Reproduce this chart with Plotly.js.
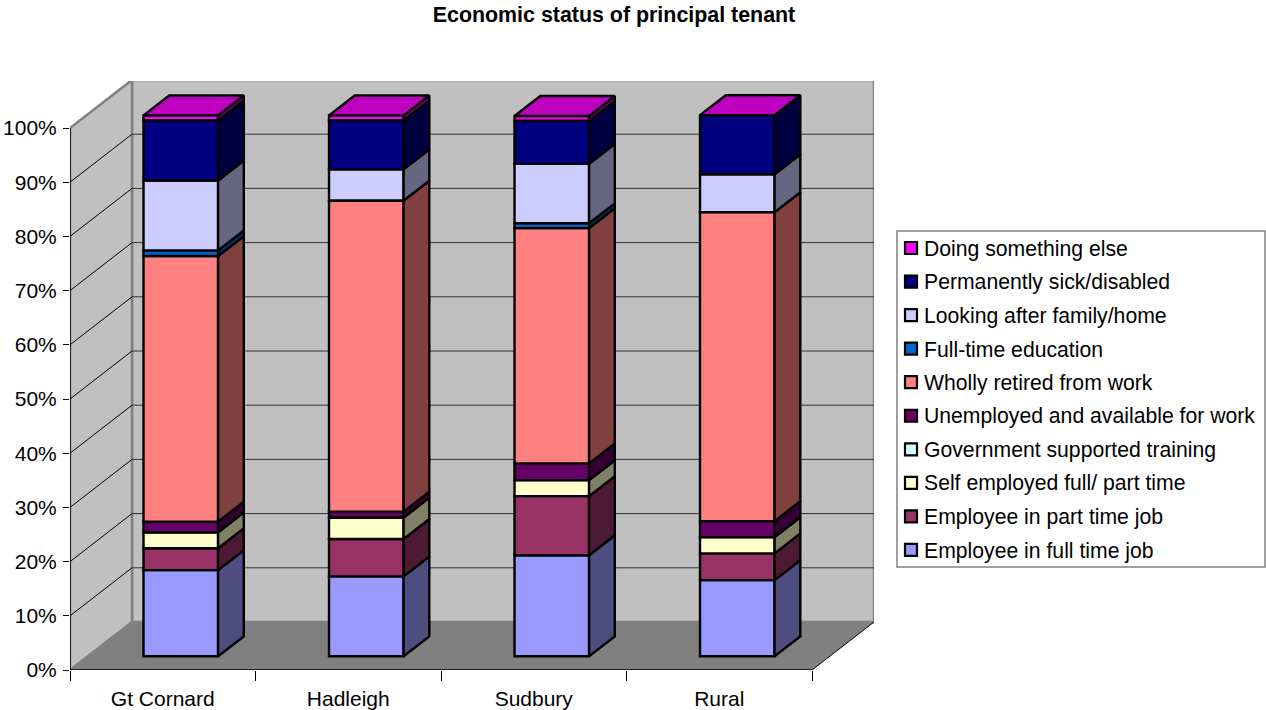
<!DOCTYPE html>
<html><head><meta charset="utf-8">
<script src="https://cdn.plot.ly/plotly-3.0.1.min.js"></script>
<style>html,body{margin:0;padding:0;background:#fff}</style></head>
<body><div id="chart" style="width:1266px;height:710px"></div>
<script>
const categories = ["Gt Cornard","Hadleigh","Sudbury","Rural"];
const seriesNames = ["Employee in full time job","Employee in part time job","Self employed full/ part time","Government supported training","Unemployed and available for work","Wholly retired from work","Full-time education","Looking after family/home","Permanently sick/disabled","Doing something else"];
const fullTimeJob   = [15.9, 14.75, 18.65, 14.05];
const partTimeJob   = [4.05, 6.9, 10.9, 4.95];
const selfEmployed  = [2.95, 3.95, 2.95, 3.0];
const govTraining   = [0, 0, 0, 0];
const unemployed    = [1.95, 1.1, 3.1, 2.95];
const whollyRetired = [49.0, 57.4, 43.4, 57.0];
const education     = [1.05, 0, 0.9, 0];
const familyHome    = [12.9, 5.75, 10.95, 7.0];
const sickDisabled  = [11.1, 9.05, 7.95, 10.9];
const somethingElse = [0.9, 0.9, 0.9, 0];
const seriesValues = [fullTimeJob,partTimeJob,selfEmployed,govTraining,unemployed,whollyRetired,education,familyHome,sickDisabled,somethingElse];
const frontColors = ["#9999FF","#993366","#FFFFCC","#CCFFFF","#660066","#FF8080","#0066CC","#CCCCFF","#000080","#FF00FF"];
const sideColors  = ["#4D4D80","#4D1A33","#808066","#668080","#330033","#804040","#003366","#666680","#000040","#800080"];
const topColor = "#C000C0";
const yTicks = [0,10,20,30,40,50,60,70,80,90,100];
const FONT = '"Liberation Sans", Arial, sans-serif';

// plot-box geometry
const L=70, R=874, T=81, B=670, W=1266, H=710;
const unitX=185.5, unitY=5.42;            // pixels per category / per percent
const depthX=62/unitX, depthY=48/unitY;   // full floor depth in axis units
const barStart=0.285, barEnd=0.70, barPad=0.301, barWidth=0.402;
const px=(x,y)=>[(x-L)/(R-L),(B-y)/(B-T)];
const P=(cat,val,d)=>[cat+d*depthX, val+d*depthY];

const traces=[];
// front faces (real bars)
const offX=barStart*depthX, offY=barStart*depthY;
const frontX=categories.map((c,i)=>i+barPad+offX+barWidth/2);
const cum=categories.map(()=>0);
const sideSets=[];
const EDGE=2.4;
seriesValues.forEach((vals,s)=>{
  const base=vals.map((v,i)=>cum[i]+offY);
  traces.push({type:"bar",name:seriesNames[s],x:frontX,y:vals,base:base,width:barWidth,
    marker:{color:frontColors[s],line:{color:"#000",width:EDGE}},hoverinfo:"name+y",showlegend:false});
  const sx=[],sy=[];
  vals.forEach((v,i)=>{
    const xr=i+barPad+barWidth;
    const poly=[P(xr,cum[i],barStart),P(xr,cum[i],barEnd),P(xr,cum[i]+v,barEnd),P(xr,cum[i]+v,barStart),P(xr,cum[i],barStart)];
    poly.forEach(p=>{sx.push(p[0]);sy.push(p[1]);});
    sx.push(null);sy.push(null);
    cum[i]+=v;
  });
  sideSets.push({type:"scatter",mode:"lines",x:sx,y:sy,fill:"toself",fillcolor:sideColors[s],
    line:{color:"#000",width:EDGE},hoverinfo:"skip",showlegend:false});
});
sideSets.forEach(t=>traces.push(t));
// top faces
const tx=[],ty=[];
cum.forEach((v,i)=>{
  const xl=i+barPad, xr=xl+barWidth;
  [P(xl,v,barStart),P(xr,v,barStart),P(xr,v,barEnd),P(xl,v,barEnd),P(xl,v,barStart)].forEach(p=>{tx.push(p[0]);ty.push(p[1]);});
  tx.push(null);ty.push(null);
});
traces.push({type:"scatter",mode:"lines",x:tx,y:ty,fill:"toself",fillcolor:topColor,line:{color:"#000",width:EDGE},hoverinfo:"skip",showlegend:false});

// walls, floor, gridlines
const n=categories.length, yTop=100;
const poly=(pts)=>"M"+pts.map(p=>p[0]+","+p[1]).join("L")+"Z";
const shapes=[];
const below=(path,fill,col,w)=>shapes.push({type:"path",path,xref:"x",yref:"y",layer:"below",fillcolor:fill,line:{color:col,width:w}});
const seg=(a,b,col,w)=>shapes.push({type:"line",xref:"x",yref:"y",layer:"below",x0:a[0],y0:a[1],x1:b[0],y1:b[1],line:{color:col,width:w}});
below(poly([[0,0],[depthX,depthY],[n+depthX,depthY],[n,0]]),"#808080","rgba(0,0,0,0)",0);
below(poly([[depthX,depthY],[depthX,yTop+depthY],[n+depthX,yTop+depthY],[n+depthX,depthY]]),"#C0C0C0","#808080",2.5);
below(poly([[0,0],[0,yTop],[depthX,yTop+depthY],[depthX,depthY]]),"#C0C0C0","#808080",2.5);
yTicks.slice(1,-1).forEach(v=>{
  seg([0,v],[depthX,v+depthY],"#000",1);
  seg([depthX,v+depthY],[n+depthX,v+depthY],"#333",1);
});
seg([0,0],[0,yTop],"#000",1.5);
seg([0,0],[n,0],"#000",1.5);
seg([n,0],[n+depthX,depthY],"#000",1);

// legend drawn by hand for its tight swatch gap
const annotations=[];
let a=px(897,231), b=px(1265,567);
shapes.push({type:"rect",xref:"paper",yref:"paper",x0:a[0],y0:a[1],x1:b[0],y1:b[1],fillcolor:"#fff",line:{color:"#808080",width:1.5},layer:"above"});
const legendOrder=seriesNames.map((_,i)=>i).reverse();
legendOrder.forEach((s,k)=>{
  const yc=248+k*33.55;
  const c=px(905,yc-6), d=px(917,yc+6);
  shapes.push({type:"rect",xref:"paper",yref:"paper",x0:c[0],y0:c[1],x1:d[0],y1:d[1],fillcolor:frontColors[s],line:{color:"#000",width:2.2},layer:"above"});
  const t=px(922.5,yc+0.6);
  annotations.push({xref:"paper",yref:"paper",x:t[0],y:t[1],xanchor:"left",yanchor:"middle",showarrow:false,text:seriesNames[s],align:"left",borderpad:0,font:{family:FONT,size:21.2,color:"#000"}});
});

const layout={
  width:W,height:H,autosize:false,paper_bgcolor:"#fff",plot_bgcolor:"rgba(0,0,0,0)",
  margin:{l:L,r:W-R,t:T,b:H-B,pad:0},barmode:"overlay",showlegend:false,dragmode:false,
  title:{text:"<b>Economic status of principal tenant</b>",font:{family:FONT,size:21.4,color:"#000"},xref:"container",yref:"container",x:614/W,xanchor:"center",y:1-15/H,yanchor:"middle"},
  xaxis:{range:[0,(R-L)/unitX],tickmode:"array",tickvals:categories.map((c,i)=>i+0.5),ticktext:categories,ticks:"",showgrid:false,zeroline:false,showline:false,
    tickfont:{family:FONT,size:21,color:"#000"},ticklabelstandoff:14,fixedrange:true,
    minor:{tickmode:"array",tickvals:[0,1,2,3,4],ticks:"outside",ticklen:10,tickcolor:"#000",tickwidth:1,showgrid:false}},
  yaxis:{range:[0,(B-T)/unitY],tickmode:"array",tickvals:yTicks,ticktext:yTicks.map(v=>v+"%"),ticks:"outside",ticklen:6,tickcolor:"#000",tickwidth:1,showgrid:false,zeroline:false,showline:false,
    tickfont:{family:FONT,size:21,color:"#000"},ticklabelstandoff:2,fixedrange:true},
  shapes,annotations
};
Plotly.newPlot("chart",traces,layout,{displayModeBar:false,staticPlot:false});
</script></body></html>
